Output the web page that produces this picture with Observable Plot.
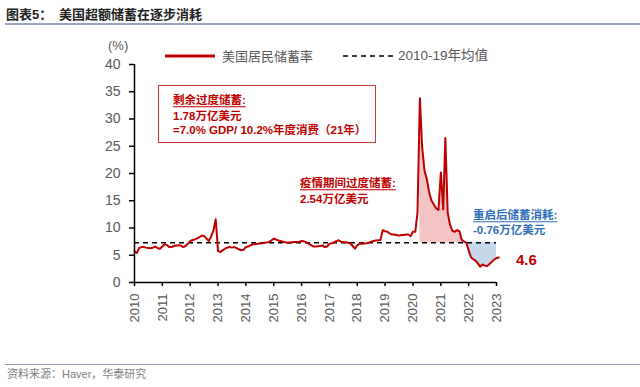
<!DOCTYPE html>
<html><head><meta charset="utf-8">
<script src="https://cdn.jsdelivr.net/npm/d3@7"></script>
<script src="https://cdn.jsdelivr.net/npm/@observablehq/plot@0.6"></script>
<style>
body{margin:0;background:#fff;width:640px;height:387px;overflow:hidden;position:relative;font-family:"Liberation Sans",Arial,"Noto Sans CJK SC",sans-serif;}
#chart{position:absolute;left:0;top:0;}
.abs{position:absolute;white-space:nowrap;transform:translateY(-50%);line-height:1;}
.cjk{font-family:"Liberation Sans",Arial,"Noto Sans CJK SC",sans-serif;}
.red{color:#c00000;font-weight:bold;font-size:11.5px;}
.blue{color:#2f6eba;font-weight:bold;font-size:11.5px;}
.u{text-decoration:underline;text-underline-offset:2px;}
</style></head><body>
<div id="chart"></div>
<div class="abs cjk" style="left:6px;top:14px;font-size:13px;font-weight:bold;color:#222;">图表5：</div>
<div class="abs cjk" style="left:59px;top:14px;font-size:13px;font-weight:bold;color:#222;">美国超额储蓄在逐步消耗</div>
<div style="position:absolute;left:5px;top:22.5px;width:635px;height:2px;background:#98a5bd;"></div>
<div style="position:absolute;left:5px;top:363.5px;width:635px;height:1px;background:#8f9db5;"></div>
<div class="abs cjk" style="left:7px;top:374px;font-size:11px;color:#7f7f7f;">资料来源：Haver，华泰研究</div>
<div class="abs" style="left:108px;top:45px;font-size:13px;color:#595959;">(%)</div>
<svg style="position:absolute;left:0;top:0;" width="640" height="80">
  <line x1="165" x2="215" y1="56" y2="56" stroke="#c00000" stroke-width="3"/>
  <line x1="343" x2="393" y1="56" y2="56" stroke="#000" stroke-width="1.5" stroke-dasharray="5,4"/>
</svg>
<div class="abs cjk" style="left:222px;top:56px;font-size:13px;color:#595959;">美国居民储蓄率</div>
<div class="abs cjk" style="left:398px;top:56px;font-size:13.5px;color:#595959;">2010-19年均值</div>
<div style="position:absolute;left:158px;top:85px;width:216px;height:56px;border:1px solid #cc3a3a;"></div>
<div class="abs red u" style="left:173px;top:101px;">剩余过度储蓄:</div>
<div class="abs red" style="left:173px;top:117px;">1.78万亿美元</div>
<div class="abs red" style="left:173px;top:131px;">=7.0% GDP/ 10.2%年度消费（21年）</div>
<div class="abs red u" style="left:300px;top:184px;">疫情期间过度储蓄:</div>
<div class="abs red" style="left:300px;top:199.5px;">2.54万亿美元</div>
<div class="abs blue u" style="left:473px;top:216px;">重启后储蓄消耗:</div>
<div class="abs blue" style="left:473px;top:231px;">-0.76万亿美元</div>
<div class="abs" style="left:516px;top:258.5px;font-size:15px;font-weight:bold;color:#c00000;">4.6</div>
<script>
const startYear = 2010;
const r2010 = [5.75,5.4,6.3,6.5,6.5,6.4,6.35,6.3,6.4,6.6,6.3,6.2];
const r2011 = [6.6,7.0,6.9,6.5,6.5,6.7,6.8,6.85,6.8,6.5,6.7,7.1];
const r2012 = [7.6,7.8,7.9,8.1,8.3,8.6,8.55,8.1,7.6,8.4,9.5,11.6];
const r2013 = [5.75,5.6,5.9,6.2,6.4,6.5,6.4,6.5,6.3,6.1,5.9,6.0];
const r2014 = [6.5,6.6,6.8,7.0,7.0,7.1,7.15,7.2,7.3,7.35,7.45,7.7];
const r2015 = [8.05,7.9,7.7,7.6,7.5,7.4,7.3,7.35,7.4,7.45,7.45,7.5];
const r2016 = [7.6,7.55,7.4,7.15,6.9,6.6,6.6,6.65,6.7,6.8,6.5,6.6];
const r2017 = [7.1,7.2,7.35,7.6,7.75,7.5,7.45,7.4,7.3,7.2,6.7,6.2];
const r2018 = [6.8,7.15,7.1,7.15,7.2,7.3,7.5,7.6,7.7,7.75,7.8,9.6];
const r2019 = [9.4,9.3,9.0,8.8,8.8,8.7,8.6,8.7,8.7,8.8,8.8,8.5];
const r2020 = [9.3,9.3,12.9,33.8,24.8,20.5,19.0,16.5,15.0,14.3,13.6,13.3];
const r2021 = [20.2,13.4,26.5,12.8,10.6,9.5,9.3,9.6,9.4,7.9,7.5,7.3];
const r2022 = [5.9,4.6,4.3,4.0,3.5,2.9,3.3,3.1,3.0,3.4,3.8,4.2];
const r2023 = [4.5,4.6];
const avg1019 = 7.3;
const yearTicks = [2010,2011,2012,2013,2014,2015,2016,2017,2018,2019,2020,2021,2022,2023];
const yTicks = [0,5,10,15,20,25,30,35,40];

const series = [r2010,r2011,r2012,r2013,r2014,r2015,r2016,r2017,r2018,r2019,r2020,r2021,r2022,r2023];
const data = series.flatMap((arr,i)=>arr.map((v,m)=>({date:new Date(Date.UTC(startYear+i,m,1)), value:v})));
const pinkStart = new Date(Date.UTC(2020,3,1)), pinkEnd = new Date(Date.UTC(2021,11,1));
const blueStart = new Date(Date.UTC(2021,11,1)), blueEnd = new Date(Date.UTC(2023,0,1));
const pink = data.filter(d=>d.date>=pinkStart && d.date<=pinkEnd);
const blue = data.filter(d=>d.date>=blueStart && d.date<=blueEnd);
const tickDates = yearTicks.map(y=>new Date(Date.UTC(y,0,1)));
const x0 = tickDates[0], x1 = tickDates[tickDates.length-1];

const chart = Plot.plot({
  width:640, height:340,
  marginLeft:134, marginRight:144, marginTop:64, marginBottom:58,
  style:{fontFamily:"Liberation Sans, Arial, sans-serif", background:"transparent", overflow:"visible"},
  x:{type:"utc", domain:[x0,x1]},
  y:{domain:[0,40]},
  marks:[
    Plot.areaY(pink,{x:"date", y1:d=>avg1019, y2:"value", fill:"#f3c4c4"}),
    Plot.areaY(blue,{x:"date", y1:d=>avg1019, y2:"value", fill:"#c6d7ec"}),
    Plot.ruleY([avg1019],{stroke:"#000", strokeWidth:1.5, strokeDasharray:"5,4"}),
    Plot.lineY(data,{x:"date", y:"value", stroke:"#c00000", strokeWidth:2}),
    Plot.axisY({ticks:yTicks, tickSize:5, tickPadding:9, fontSize:14, fill:"#595959", stroke:"#000", strokeWidth:1.5, tickFormat:d=>String(d), label:null}),
    Plot.axisX({ticks:tickDates, tickFormat:d=>String(d.getUTCFullYear()), tickRotate:-90, tickSize:4, tickPadding:7, fontSize:13, fill:"#595959", stroke:"#000", strokeWidth:1.5, label:null}),
    Plot.ruleX([x0],{stroke:"#000", strokeWidth:1.5}),
    Plot.ruleY([0],{stroke:"#000", strokeWidth:1.5})
  ]
});
document.getElementById("chart").appendChild(chart);
</script>
</body></html>
